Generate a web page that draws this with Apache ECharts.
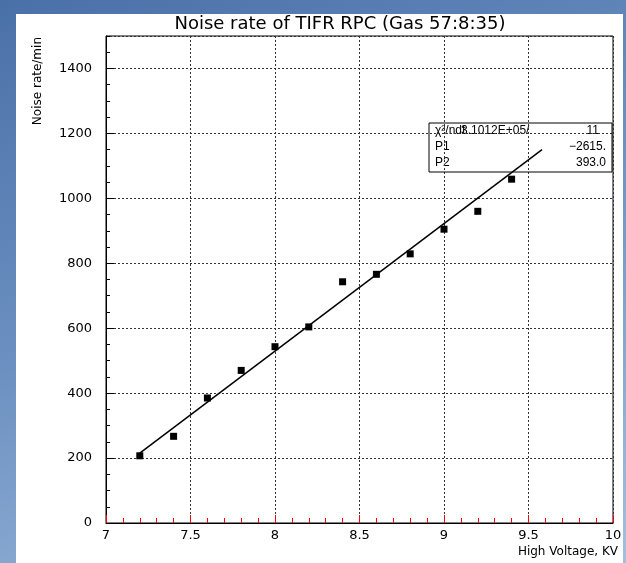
<!DOCTYPE html>
<html>
<head>
<meta charset="utf-8">
<script src="https://cdn.jsdelivr.net/npm/echarts@6/dist/echarts.min.js"></script>
<style>
  html, body { margin: 0; padding: 0; }
  #wrap {
    position: relative; width: 626px; height: 563px; overflow: hidden;
    background: linear-gradient(160deg, #4a70a8 0%, #6a8fc0 45%, #a3bfdf 100%);
  }
  #paper { position: absolute; left: 16px; top: 14px; width: 607px; height: 549px; background: #fff; }
  #main { position: absolute; left: 0; top: 0; width: 626px; height: 563px; }
</style>
</head>
<body>
<div id="wrap">
  <div id="paper"></div>
  <div id="main"></div>
</div>
<script>
// 测量数据 (High Voltage KV -> noise rate/min)
const voltage = [7.2, 7.4, 7.6, 7.8, 8.0, 8.2, 8.4, 8.6, 8.8, 9.0, 9.2, 9.4]
const noiseRate = [207, 267, 385, 470, 543, 604, 743, 766, 829, 905, 960, 1059]

// 拟合直线端点
const fitX = [7.2, 9.58]
const fitY = [215, 1150]

// 拟合结果框
const statNames = ['χ²/ndf', 'P1', 'P2']
const statValues = ['11', '−2615.', '393.0']
const chiValue = '3.1012E+05/'

const chart = echarts.init(document.getElementById('main'))

const boxFont = { fontFamily: 'Liberation Sans', fontSize: 12, fill: '#000' }
const rowY = [131, 147, 163]
const statTexts = []
statNames.forEach((name, i) => {
  statTexts.push({
    type: 'text', x: 435, y: rowY[i],
    style: Object.assign({ text: name, align: 'left', verticalAlign: 'middle', textAlign: 'left', textVerticalAlign: 'middle' }, boxFont)
  })
  statTexts.push({
    type: 'text', x: i == 0 ? 599 : 606, y: rowY[i],
    style: Object.assign({ text: statValues[i], align: 'right', verticalAlign: 'middle', textAlign: 'right', textVerticalAlign: 'middle' }, boxFont)
  })
})
statTexts.push({
  type: 'text', x: 461, y: rowY[0],
  style: Object.assign({ text: chiValue, align: 'left', verticalAlign: 'middle', textAlign: 'left', textVerticalAlign: 'middle' }, boxFont)
})

const option = {
  animation: false,
  title: {
    text: 'Noise rate of TIFR RPC (Gas 57:8:35)',
    left: 335,
    top: 10,
    textAlign: 'center',
    textStyle: { fontFamily: 'DejaVu Sans', fontSize: 18, fontWeight: 'normal', color: '#000' }
  },
  grid: {
    left: 106, right: 13, top: 36, bottom: 40,
    show: true, borderColor: '#000', borderWidth: 1
  },
  xAxis: {
    type: 'value',
    position: 'bottom',
    min: 7, max: 10, interval: 0.5,
    axisLine: { show: true, lineStyle: { color: '#000', width: 1 } },
    axisTick: { show: true, inside: true, length: 8, lineStyle: { color: 'red' } },
    minorTick: { show: true, splitNumber: 5, length: 5, lineStyle: { color: 'red' } },
    axisLabel: { color: '#000', fontFamily: 'DejaVu Sans', fontSize: 13, margin: 6 },
    splitLine: { show: true, lineStyle: { color: '#333', type: [2, 2], width: 1 } }
  },
  yAxis: [
    {
      type: 'value',
      position: 'left',
      min: 0, max: 1500, interval: 200,
      axisLine: { show: true, lineStyle: { color: '#000', width: 1 } },
      axisTick: { show: true, inside: true, length: 8 },
      axisLabel: {
        color: '#000', fontFamily: 'DejaVu Sans', fontSize: 13, margin: 14, showMaxLabel: false,
        formatter: v => String(v)
      },
      splitLine: { show: true, lineStyle: { color: '#333', type: [2, 2], width: 1 } }
    },
    {
      // 次刻度 (每50)
      type: 'value',
      position: 'left',
      min: 0, max: 1500, interval: 50,
      axisLine: { show: false },
      axisTick: { show: true, inside: true, length: 4, lineStyle: { color: '#000' } },
      axisLabel: { show: false },
      splitLine: { show: false }
    }
  ],
  graphic: [
    {
      type: 'text', x: 38, y: 37, rotation: Math.PI / 2,
      style: { text: 'Noise rate/min', fontFamily: 'DejaVu Sans', fontSize: 12, fill: '#000',
        align: 'right', verticalAlign: 'middle', textAlign: 'right', textVerticalAlign: 'middle' }
    },
    {
      type: 'text', x: 618, y: 552,
      style: { text: 'High Voltage, KV', fontFamily: 'DejaVu Sans', fontSize: 12, fill: '#000',
        align: 'right', verticalAlign: 'middle', textAlign: 'right', textVerticalAlign: 'middle' }
    },
    {
      type: 'rect', shape: { x: 429, y: 123, width: 183, height: 49 },
      style: { fill: 'none', stroke: '#000', lineWidth: 1 }, z: 10
    }
  ].concat(statTexts),
  series: [
    {
      name: 'noise',
      type: 'scatter',
      data: voltage.map((v, i) => [v, noiseRate[i]]),
      symbol: 'rect',
      symbolSize: 7,
      itemStyle: { color: '#000', opacity: 1 },
      z: 4
    },
    {
      name: 'fit',
      type: 'line',
      data: fitX.map((x, i) => [x, fitY[i]]),
      showSymbol: false,
      symbol: 'none',
      lineStyle: { color: '#000', width: 1.5 },
      z: 3
    }
  ]
}

chart.setOption(option)
</script>
</body>
</html>
